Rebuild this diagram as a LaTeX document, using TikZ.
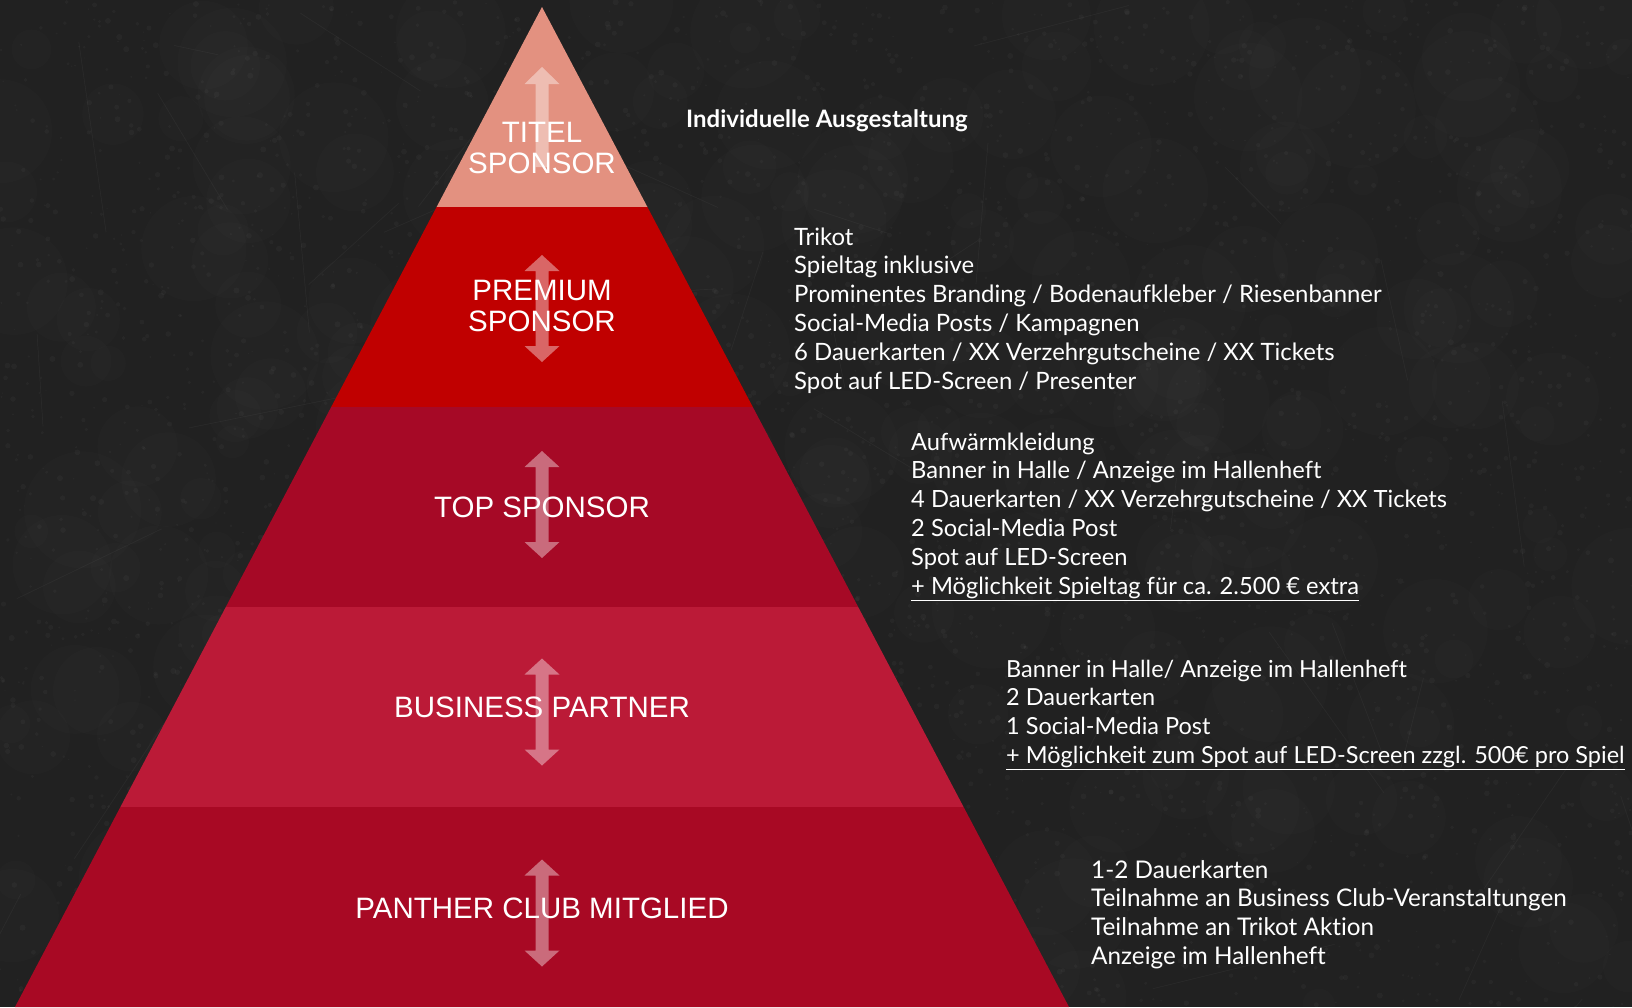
\documentclass[tikz,border=0pt]{standalone}
\usepackage{fontspec}
\setmainfont{Liberation Sans}
\newfontfamily\lato[Ligatures=NoCommon]{Lato}
\definecolor{bgc}{RGB}{33,33,33}
\definecolor{titelc}{RGB}{227,145,128}
\definecolor{premc}{RGB}{192,0,0}
\definecolor{topc}{RGB}{166,9,38}
\definecolor{busc}{RGB}{187,26,55}
\definecolor{panc}{RGB}{168,9,36}
\newcommand\tierdblarrow[1]{%
  \fill[arrowfill] (542,#1-53.5) -- (559.5,#1-37.5) -- (548.5,#1-37.5) -- (548.5,#1+37.5) -- (559.5,#1+37.5) -- (542,#1+53.5) -- (524.5,#1+37.5) -- (535.5,#1+37.5) -- (535.5,#1-37.5) -- (524.5,#1-37.5) -- cycle;}
\begin{document}
\begin{tikzpicture}[x=1pt,y=-1pt,
  tier/.style={font=\fontsize{29.5}{31}\selectfont, text=white, inner sep=0pt, anchor=base},
  info/.style={font=\lato\fontsize{23.7}{28}\selectfont, text=white, inner sep=0pt, anchor=base west},
  arrowfill/.style={fill=white, fill opacity=0.4, draw=none},
  grain/.style={fill=white, fill opacity=0.03, draw=none}]
\useasboundingbox (0,0) rectangle (1632,1007);
\fill[bgc] (0,0) rectangle (1632,1007);
% background texture
\pgfmathsetseed{7}
\foreach \k in {1,...,300}{
  \pgfmathsetmacro\gx{rnd*1632}
  \pgfmathsetmacro\gy{rnd*1007}
  \pgfmathsetmacro\gr{15+rnd*45}
  \fill[white, fill opacity=0.012] (\gx,\gy) circle (\gr);
}
\foreach \k in {1,...,4000}{
  \pgfmathsetmacro\gx{rnd*1632}
  \pgfmathsetmacro\gy{rnd*1007}
  \pgfmathsetmacro\gr{0.6+rnd*2.4}
  \fill[grain] (\gx,\gy) circle (\gr);
}
\foreach \k in {1,...,50}{
  \pgfmathsetmacro\sx{rnd*1632}
  \pgfmathsetmacro\sy{rnd*1007}
  \pgfmathsetmacro\sa{rnd*180}
  \pgfmathsetmacro\sl{40+rnd*160}
  \draw[white, draw opacity=0.04, line width=0.7pt] (\sx,\sy) -- ++(\sa:\sl);
}
% pyramid
\coordinate (apex) at (542,7);
\coordinate (bl) at (15,1007);
\coordinate (br) at (1069,1007);
\begin{scope}
  \clip (apex) -- (br) -- (bl) -- cycle;
  \fill[titelc] (0,0) rectangle (1632,207);
  \fill[premc] (0,207) rectangle (1632,407);
  \fill[topc] (0,407) rectangle (1632,607);
  \fill[busc] (0,607) rectangle (1632,807);
  \fill[panc] (0,807) rectangle (1632,1008);
\end{scope}
% arrows
\fill[arrowfill] (542,67) -- (559.5,84) -- (548.5,84) -- (548.5,167) -- (535.5,167) -- (535.5,84) -- (524.5,84) -- cycle;
\tierdblarrow{308.5}
\tierdblarrow{504.5}
\tierdblarrow{712}
\tierdblarrow{913}
% tier labels
\node[tier] (t1) at (542,142) {TITEL};
\node[tier] (t2) at (542,173) {SPONSOR};
\node[tier] (p1) at (542,300) {PREMIUM};
\node[tier] (p2) at (542,331) {SPONSOR};
\node[tier] (ts) at (542,517) {TOP SPONSOR};
\node[tier] (bp) at (542,717) {BUSINESS PARTNER};
\node[tier] (pc) at (542,918) {PANTHER CLUB MITGLIED};
% info texts
\node[info, font=\lato\bfseries\fontsize{24}{28}\selectfont] (ind) at (686,127) {Individuelle Ausgestaltung};
\foreach \t [count=\i] in {Trikot, Spieltag inklusive, Prominentes Branding / Bodenaufkleber / Riesenbanner, Social-Media Posts / Kampagnen, 6 Dauerkarten / XX Verzehrgutscheine / XX Tickets, Spot auf LED-Screen / Presenter}
  \node[info, font=\lato\fontsize{23.9}{28}\selectfont] (pr\i) at (794,245+28.9*\i-28.9) {\t};
\foreach \t [count=\i] in {Aufwärmkleidung, Banner in Halle / Anzeige im Hallenheft, 4 Dauerkarten / XX Verzehrgutscheine / XX Tickets, 2 Social-Media Post, Spot auf LED-Screen, {\underline{+ Möglichkeit Spieltag für ca. 2.500 € extra}}}
  \node[info] (tp\i) at (911,450+28.9*\i-28.9) {\t};
\foreach \t [count=\i] in {Banner in Halle/ Anzeige im Hallenheft, 2 Dauerkarten, 1 Social-Media Post, {\underline{+ Möglichkeit zum Spot auf LED-Screen zzgl. 500€ pro Spiel}}}
  \node[info, font=\lato\fontsize{23.5}{28}\selectfont] (bu\i) at (1006,677+28.9*\i-28.9) {\t};
\foreach \t [count=\i] in {1-2 Dauerkarten, Teilnahme an Business Club-Veranstaltungen, Teilnahme an Trikot Aktion, Anzeige im Hallenheft}
  \node[info, font=\lato\fontsize{24.3}{28}\selectfont] (pa\i) at (1091,878+28.8*\i-28.8) {\t};
\end{tikzpicture}
\end{document}
